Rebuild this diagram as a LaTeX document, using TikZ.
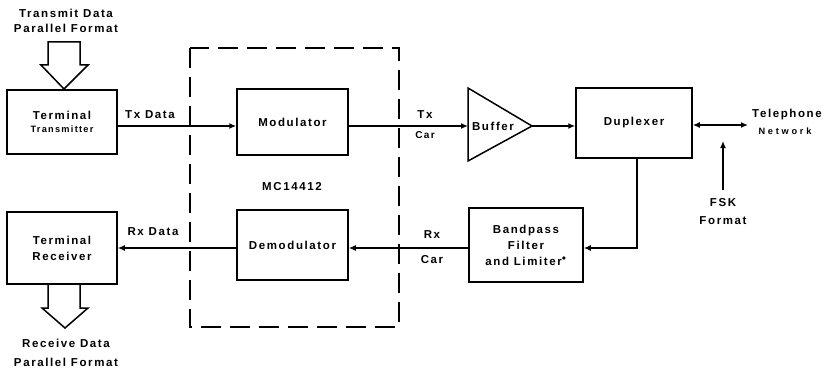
\documentclass[tikz,border=0pt]{standalone}
\usepackage{fontspec}
\setmainfont{Liberation Sans}[LetterSpace=14]
\usetikzlibrary{arrows.meta}
\tikzset{
  x=1pt,y=-1pt,
  blk/.style={draw,line width=1.5pt,inner sep=0pt,align=center,font=\bfseries\fontsize{11.5}{16}\selectfont},
  lbl/.style={inner sep=0pt,align=center,font=\bfseries\fontsize{11.5}{14}\selectfont},
  slbl/.style={inner sep=0pt,align=center,font=\bfseries\fontsize{10}{12}\selectfont},
  wire/.style={line width=1.4pt},
  arr/.style={wire,-{Latex[length=7pt,width=6pt]}},
  darr/.style={wire,{Latex[length=7pt,width=6pt]}-{Latex[length=7pt,width=6pt]}},
  hollow/.style={line width=1.5pt,line join=miter},
  dbox/.style={line width=1.5pt,dash pattern=on 20pt off 9pt}
}
\begin{document}
\begin{tikzpicture}
\useasboundingbox (0,0) rectangle (823,369);
% rows
\coordinate (ytop) at (0,126);
\coordinate (ybot) at (0,248);
% dashed MC14412 boundary
\draw[dbox] (190,48) rectangle (399,327);
\node[lbl] (mc) at (292,187) {MC14412};
% blocks
\node[blk,minimum width=110pt,minimum height=64pt] (tt) at (62,122) {Terminal\\[-3pt]{\fontsize{9.2}{11}\selectfont Transmitter}};
\node[blk,minimum width=111pt,minimum height=66pt] (mod) at (292.5,122) {Modulator};
\node[blk,minimum width=116pt,minimum height=70pt] (dup) at (634,123) {Duplexer};
\node[blk,minimum width=114pt,minimum height=74pt] (bpf) at (526,245) {Bandpass\\Filter\\and Limiter$^{\bullet}$};
\node[blk,minimum width=111pt,minimum height=70pt] (dem) at (292.5,245) {Demodulator};
\node[blk,minimum width=110pt,minimum height=72pt] (tr) at (62,248) {Terminal\\Receiver};
% buffer triangle
\coordinate (bufin) at (468,126);
\coordinate (bufout) at (532,126);
\draw[line width=1.5pt,line join=miter] (468,88) -- (bufout) -- (468,161) -- cycle;
\node[lbl] (buf) at (493,126) {Buffer};
% hollow arrows
\draw[hollow] (48,42) -- (48,65) -- (41,65) -- (64,89) -- (88,65) -- (80,65) -- (80,42) -- cycle;
\draw[hollow] (48,284) -- (48,308) -- (42,308) -- (65,328) -- (88,308) -- (80,308) -- (80,284);
\node[lbl] (tdata) at (66,13) {Transmit Data};
\node[lbl] (tpar) at (66,28) {Parallel Format};
\node[lbl] (rdata) at (66,343) {Receive Data};
\node[lbl] (rpar) at (66,362) {Parallel Format};
% connectors
\draw[arr] (tt.east |- ytop) -- (mod.west |- ytop);
\draw[arr] (mod.east |- ytop) -- (bufin);
\draw[arr] (bufout) -- (dup.west |- ytop);
\coordinate (telend) at (748,125);
\draw[darr] (dup.east |- telend) -- (telend);
\coordinate (fskbot) at (723,190);
\coordinate (fsktop) at (723,141);
\draw[arr] (fskbot) -- (fsktop);
\coordinate (dupdown) at (637,158);
\draw[arr] (dupdown) |- (bpf.east |- ybot);
\draw[arr] (bpf.west |- ybot) -- (dem.east |- ybot);
\draw[arr] (dem.west |- ybot) -- (tr.east |- ybot);
% labels
\node[lbl] (txd) at (150,115) {Tx Data};
\node[lbl] (tx) at (425,115) {Tx};
\node[slbl] (txcar) at (425,135) {Car};
\node[lbl] (tel) at (787,115) {Telephone};
\node[inner sep=0pt,font=\bfseries\fontsize{9.2}{11}\selectfont] (net) at (785,131) {\addfontfeature{LetterSpace=30}Network};
\node[lbl] (fsk) at (723,203) {FSK};
\node[lbl] (fskf) at (723,221) {Format};
\node[lbl] (rx) at (432,235) {Rx};
\node[lbl] (rxcar) at (432,260) {Car};
\node[lbl] (rxd) at (153,232) {Rx Data};
\end{tikzpicture}
\end{document}
